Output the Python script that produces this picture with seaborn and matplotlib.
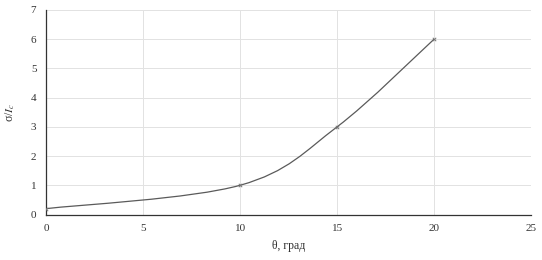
import numpy as np
import pandas as pd
import matplotlib
matplotlib.use("Agg")
import matplotlib.pyplot as plt
from matplotlib.path import Path
from matplotlib.patches import PathPatch
import seaborn as sns

# data
theta = [0, 10, 15, 20]
sigma = [0.2, 1.0, 3.0, 6.0]
x_ticks = [0, 5, 10, 15, 20, 25]
y_ticks = [0, 1, 2, 3, 4, 5, 6, 7]

sns.set_style("white")
plt.rcParams['font.family'] = ['Liberation Serif', 'DejaVu Serif']
plt.rcParams['mathtext.fontset'] = 'stix'

df = pd.DataFrame({"theta": theta, "sigma": sigma})

fig = plt.figure(figsize=(5.42, 2.6), dpi=100)
ax = fig.add_axes([0.085, 0.175, 0.895, 0.787])

# smoothed line (Excel-style bezier through the points)
pts = np.column_stack([df["theta"], df["sigma"]])
n = len(pts)
verts = [pts[0]]
codes = [Path.MOVETO]
for i in range(n - 1):
    p_prev = pts[max(i - 1, 0)]
    p0, p1 = pts[i], pts[i + 1]
    p_next = pts[min(i + 2, n - 1)]
    c1 = p0 + (p1 - p_prev) / 6
    c2 = p1 - (p_next - p0) / 6
    verts += [c1, c2, p1]
    codes += [Path.CURVE4] * 3
ax.add_patch(PathPatch(Path(verts, codes), facecolor='none',
                       edgecolor='#5a5a5a', lw=0.9, zorder=3))

sns.scatterplot(data=df, x="theta", y="sigma", ax=ax, marker='x',
                s=6, color='#777777', linewidth=0.7, zorder=4)

ax.set_xlim(0, 25)
ax.set_ylim(0, 7)
ax.set_xticks(x_ticks)
ax.set_yticks(y_ticks)
ax.grid(True, color='#e2e2e2', lw=0.7)
ax.set_axisbelow(True)
for s in ['top', 'right']:
    ax.spines[s].set_visible(False)
for s in ['left', 'bottom']:
    ax.spines[s].set_color('#333333')
    ax.spines[s].set_linewidth(0.9)
ax.tick_params(axis='both', direction='inout', length=6, width=0.8,
               color='#333333', labelsize=8, labelcolor='#333333', pad=4)

ax.set_xlabel('θ, град', fontsize=8.5, color='#333333', labelpad=5)
ax.set_ylabel(r'σ/$\mathit{I}_c$', fontsize=8.5, color='#333333', labelpad=10)

fig.savefig('out.png', dpi=100)
